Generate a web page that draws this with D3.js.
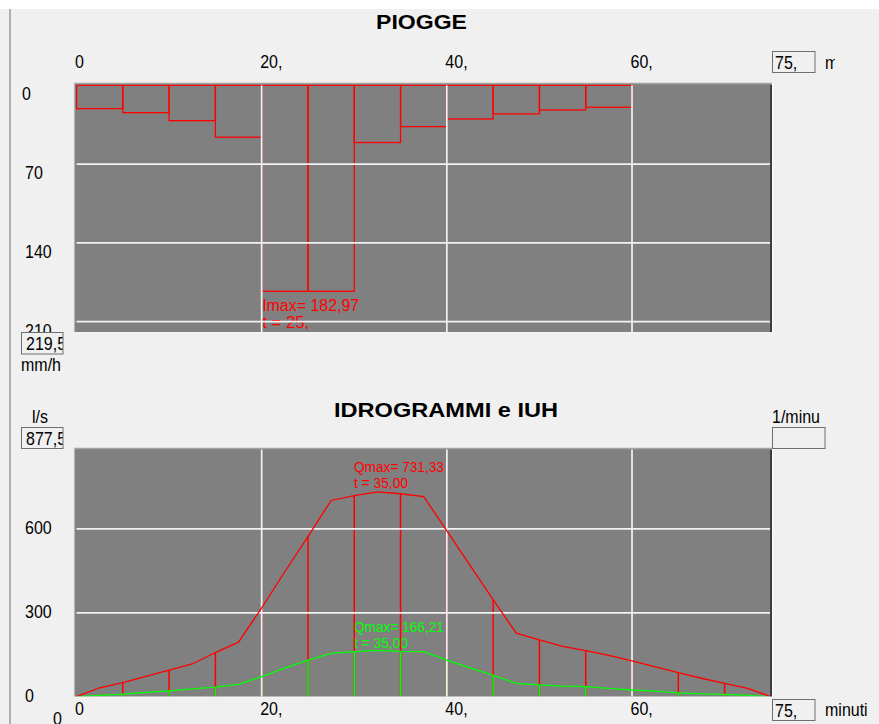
<!DOCTYPE html>
<html><head><meta charset="utf-8">
<script src="https://cdn.jsdelivr.net/npm/d3@7"></script>
<style>html,body{margin:0;padding:0;background:#fff;overflow:hidden}</style>
</head><body>
<svg id="c" width="879" height="724"></svg>
<script>
// ---------- data ----------
const rainStart = [0, 5, 10, 15, 20, 25, 30, 35, 40, 45, 50, 55];
const rainIntensity = [20.7, 24.3, 31.4, 46.1, 182.97, 182.97, 50.8, 36.7, 29.9, 25.4, 21.9, 19.5];
const rainStep = 5;

const hydroTime = [0, 2.5, 5, 7.5, 10, 12.5, 15, 17.5, 20, 22.5, 25, 27.5, 30, 32.5, 35, 37.5,
                   40, 42.5, 45, 47.5, 50, 52.5, 55, 57.5, 60, 62.5, 65, 67.5, 70, 72.5, 75];
const qHydrograph = [0, 32, 50, 73, 95, 117, 158, 195, 318, 447, 573, 702, 719, 733, 726, 716,
                     593, 470, 347, 227, 203, 180, 165, 148, 128, 107, 86, 66, 48, 30, 0];
const qIUH = [0, 5, 9.5, 15, 21, 28, 34, 44, 72, 102, 131, 155, 161, 166, 162, 161,
              131, 103, 76, 48, 42, 38, 36, 30, 24, 20, 14, 10, 8, 5, 0];
const stemTimes = [5, 10, 15, 20, 25, 30, 35, 40, 45, 50, 55, 60, 65, 70];

const xTickVals = [0, 20, 40, 60];
const xTickLabels = ["0", "20,", "40,", "60,"];
const rainYTicks = [0, 70, 140, 210];
const hydroYTicks = [0, 300, 600];
const xMax = 75, rainMax = 219.5, hydroMax = 877.5;

// ---------- setup ----------
const svg = d3.select("#c");
const FONT = "'Liberation Sans', Arial, sans-serif";
const RED = "#ff0000", GREEN = "#00ff00", PLOT = "#808080", BG = "#f0f0f0";

svg.append("rect").attr("width", 879).attr("height", 724).attr("fill", "#ffffff");
svg.append("rect").attr("x", 0).attr("y", 9).attr("width", 879).attr("height", 715).attr("fill", BG);
svg.append("line").attr("x1", 10).attr("x2", 10).attr("y1", 9).attr("y2", 724)
  .attr("stroke", "#9a9a9a").attr("stroke-width", 1.5);

const x = d3.scaleLinear().domain([0, xMax]).range([76.5, 770.9]);
const yRain = d3.scaleLinear().domain([0, rainMax]).range([85.3, 332.4]);
const yHydro = d3.scaleLinear().domain([0, hydroMax]).range([696.7, 451.4]);

const defs = svg.append("defs");
function clipRect(id, x0, y0, w, h) {
  defs.append("clipPath").attr("id", id).append("rect")
    .attr("x", x0).attr("y", y0).attr("width", w).attr("height", h);
  return `url(#${id})`;
}

function txt(g, px, py, s, o = {}) {
  const sy = o.sy == null ? 1.15 : o.sy;
  const host = o.clip ? g.append("g").attr("clip-path", o.clip) : g;
  const t = host.append("text")
    .attr("transform", `translate(${px},${py}) scale(1,${sy})`)
    .attr("font-family", FONT)
    .attr("font-size", o.size || 16)
    .attr("font-weight", o.weight || "normal")
    .attr("fill", o.fill || "#000")
    .text(s);
  if (o.anchor) t.attr("text-anchor", o.anchor);
  if (o.len) t.attr("textLength", o.len).attr("lengthAdjust", "spacingAndGlyphs");
  return t;
}

function plotFrame(y0, y1, clipId) {
  const g = svg.append("g");
  g.append("rect").attr("x", 74).attr("y", y0).attr("width", 698).attr("height", y1 - y0)
    .attr("fill", PLOT);
  g.append("line").attr("x1", 74).attr("x2", 772).attr("y1", y0 + 0.5).attr("y2", y0 + 0.5)
    .attr("stroke", "#a3a3a3").attr("stroke-width", 1.5);
  g.append("line").attr("x1", 74.5).attr("x2", 74.5).attr("y1", y0).attr("y2", y1)
    .attr("stroke", "#b4b4b4").attr("stroke-width", 1.2);
  return clipRect(clipId, 75.5, y0 + 1.5, 694.5, y1 - y0 - 2);
}
function plotEdges(y0, y1) {
  svg.append("line").attr("x1", 771).attr("x2", 771).attr("y1", y0 + 2).attr("y2", y1)
    .attr("stroke", "#1e1e1e").attr("stroke-width", 1.4);
  svg.append("line").attr("x1", 772.6).attr("x2", 772.6).attr("y1", y0).attr("y2", y1 + 1)
    .attr("stroke", "#fbfbfb").attr("stroke-width", 1.2);
  svg.append("line").attr("x1", 74).attr("x2", 773).attr("y1", y1 + 0.3).attr("y2", y1 + 0.3)
    .attr("stroke", "#f4f4f4").attr("stroke-width", 1.4);
}

// ================= TOP: PIOGGE =================
txt(svg, 376, 29, "PIOGGE", {size: 19.5, weight: "bold", sy: 1, len: 91});

const clipTop = plotFrame(83, 332.5, "clipTop");
const gTop = svg.append("g").attr("clip-path", clipTop);

// intensity label
txt(gTop, x(20) + 0.5, yRain(182.97) + 20, "Imax= 182,97", {size: 14, fill: RED, len: 97});
txt(gTop, x(20) + 0.5, yRain(182.97) + 36.5, "t = 25,", {size: 14, fill: RED, len: 47});

// rain bars (outlined)
gTop.selectAll("rect.bar").data(rainStart).join("rect")
  .attr("class", "bar")
  .attr("x", d => x(d))
  .attr("y", yRain(0))
  .attr("width", d => x(d + rainStep) - x(d))
  .attr("height", (d, i) => yRain(rainIntensity[i]) - yRain(0))
  .attr("fill", "none").attr("stroke", RED).attr("stroke-width", 1.3);

// grid
gTop.selectAll("line.hg").data(rainYTicks.filter(d => d > 0)).join("line")
  .attr("x1", x(0)).attr("x2", 771).attr("y1", d => yRain(d)).attr("y2", d => yRain(d))
  .attr("stroke", "#f2f2f2").attr("stroke-width", 1.7);
gTop.selectAll("line.vg").data(xTickVals.filter(d => d > 0)).join("line")
  .attr("x1", d => x(d)).attr("x2", d => x(d)).attr("y1", yRain(0)).attr("y2", 333)
  .attr("stroke", "#f2f2f2").attr("stroke-width", 1.7);
plotEdges(83, 332.5);

// top axis labels
xTickVals.forEach((v, i) => txt(svg, x(v) - 1.5, 67.5, xTickLabels[i]));
rainYTicks.forEach(v => txt(svg, v === 0 ? 22 : 25, yRain(v) + 15, String(v)));

// max box + unit
svg.append("rect").attr("x", 21.5).attr("y", 332.5).attr("width", 41.5).attr("height", 21.5)
  .attr("fill", BG).attr("stroke", "#6e6e6e").attr("stroke-width", 1);
const clipBox1 = clipRect("cb1", 22, 333, 40.5, 21);
txt(svg, 26, 350, "219,5", {clip: clipBox1});
txt(svg, 21, 371, "mm/h");

// x max box
svg.append("rect").attr("x", 772.5).attr("y", 51.5).attr("width", 42.5).attr("height", 21)
  .attr("fill", BG).attr("stroke", "#6e6e6e").attr("stroke-width", 1);
txt(svg, 775, 69, "75,");
const clipMm = clipRect("cmm", 820, 40, 15, 40);
txt(svg, 825, 69, "mm", {clip: clipMm});

// ================= BOTTOM: IDROGRAMMI e IUH =================
txt(svg, 334, 416.5, "IDROGRAMMI e IUH", {size: 19.5, weight: "bold", sy: 1, len: 224});

const clipBot = plotFrame(448, 697, "clipBot");
const gBot = svg.append("g").attr("clip-path", clipBot);

// labels (drawn beneath lines)
txt(gBot, x(30) - 0.3, yHydro(731.33) - 20.5, "Qmax= 731,33", {size: 13.5, fill: RED, len: 90});
txt(gBot, x(30) - 0.3, yHydro(731.33) - 4.5, "t = 35,00", {size: 13.5, fill: RED, len: 54});
txt(gBot, x(30) - 0.3, yHydro(166.21) - 18.5, "Qmax= 166,21", {size: 13.5, fill: GREEN, len: 90});
txt(gBot, x(30) - 0.3, yHydro(166.21) - 2.5, "t = 35,00", {size: 13.5, fill: GREEN, len: 54});

const qAt = (arr, t) => arr[hydroTime.indexOf(t)];
// stems
gBot.selectAll("line.rs").data(stemTimes).join("line")
  .attr("x1", d => x(d)).attr("x2", d => x(d))
  .attr("y1", yHydro(0)).attr("y2", d => yHydro(qAt(qHydrograph, d)))
  .attr("stroke", RED).attr("stroke-width", 1.5);
gBot.selectAll("line.gs").data(stemTimes).join("line")
  .attr("x1", d => x(d)).attr("x2", d => x(d))
  .attr("y1", yHydro(0)).attr("y2", d => yHydro(qAt(qIUH, d)))
  .attr("stroke", GREEN).attr("stroke-width", 1.5);

// grid
gBot.selectAll("line.hg").data(hydroYTicks.filter(d => d > 0)).join("line")
  .attr("x1", x(0)).attr("x2", 771).attr("y1", d => yHydro(d)).attr("y2", d => yHydro(d))
  .attr("stroke", "#f2f2f2").attr("stroke-width", 1.7);
gBot.selectAll("line.vg").data(xTickVals.filter(d => d > 0)).join("line")
  .attr("x1", d => x(d)).attr("x2", d => x(d)).attr("y1", 449).attr("y2", 697)
  .attr("stroke", "#f2f2f2").attr("stroke-width", 1.7);

// curves
const line = arr => d3.line().x((d, i) => x(hydroTime[i])).y(d => yHydro(d))(arr);
gBot.append("path").attr("d", line(qIUH)).attr("fill", "none")
  .attr("stroke", GREEN).attr("stroke-width", 1.3);
gBot.append("path").attr("d", line(qHydrograph)).attr("fill", "none")
  .attr("stroke", RED).attr("stroke-width", 1.3);
plotEdges(448, 697);

// axis labels
xTickVals.forEach((v, i) => txt(svg, x(v) - 1.5, 715, xTickLabels[i]));
hydroYTicks.forEach(v => txt(svg, 25, yHydro(v) + 5.5, String(v)));
txt(svg, 53, 725, "0");

// unit + boxes
txt(svg, 32, 423, "l/s");
svg.append("rect").attr("x", 21.5).attr("y", 427.5).attr("width", 41.5).attr("height", 21)
  .attr("fill", BG).attr("stroke", "#6e6e6e").attr("stroke-width", 1);
const clipBox2 = clipRect("cb2", 22, 428, 40.5, 20);
txt(svg, 26, 445, "877,5", {clip: clipBox2});

txt(svg, 772, 423, "1/minu");
svg.append("rect").attr("x", 772.5).attr("y", 427.5).attr("width", 52.5).attr("height", 21)
  .attr("fill", BG).attr("stroke", "#6e6e6e").attr("stroke-width", 1);

svg.append("rect").attr("x", 772.5).attr("y", 699.5).attr("width", 42.5).attr("height", 21)
  .attr("fill", BG).attr("stroke", "#6e6e6e").attr("stroke-width", 1);
txt(svg, 775, 716.5, "75,");
txt(svg, 825, 716, "minuti");
</script>
</body></html>
